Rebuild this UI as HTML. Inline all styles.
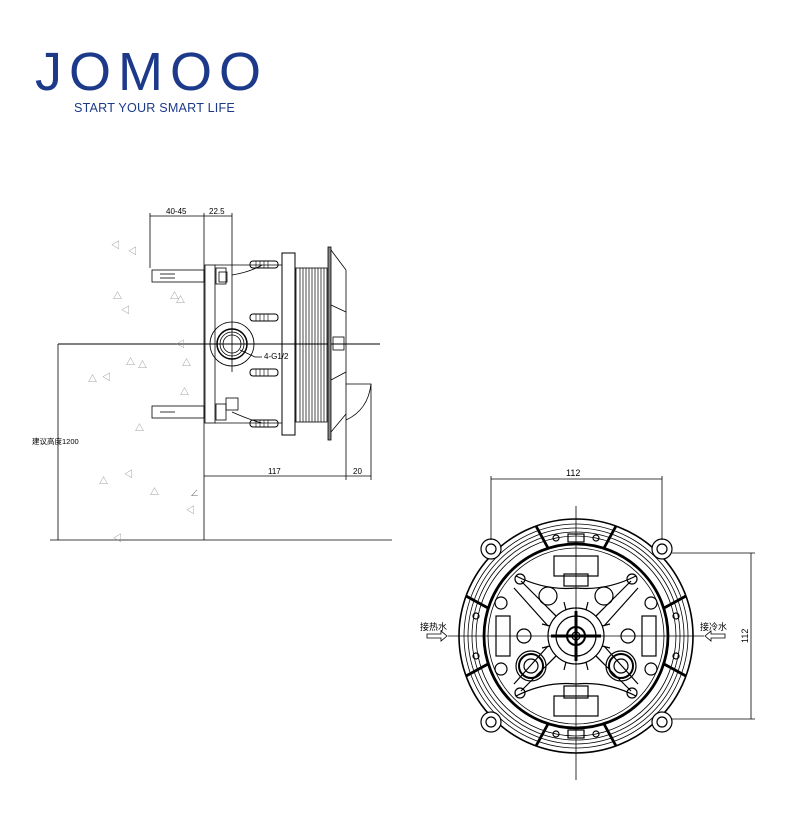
<!DOCTYPE html>
<html><head><meta charset="utf-8"><style>
body{margin:0;background:#fff;width:810px;height:814px;overflow:hidden;position:relative;font-family:"Liberation Sans",sans-serif}
.logo{position:absolute;left:35px;top:42px;font-size:54px;color:#1d3a8a;letter-spacing:7px;font-weight:400;line-height:60px}
.tag{position:absolute;left:74px;top:101px;font-size:12.6px;color:#1d3a8a;letter-spacing:0.2px}
svg{position:absolute;left:0;top:0}
</style></head><body>
<div class="logo">JOMOO</div>
<div class="tag">START YOUR SMART LIFE</div>
<svg width="810" height="814" viewBox="0 0 810 814" font-family="Liberation Sans, Noto Sans CJK SC, sans-serif">
<g stroke="#000" fill="none" stroke-width="0.8">
<line x1="150" y1="213" x2="150" y2="268"/>
<line x1="150" y1="216" x2="232" y2="216"/>
<line x1="204" y1="213" x2="204" y2="540"/>
<line x1="232" y1="213" x2="232" y2="372"/>
<line x1="58" y1="344" x2="58" y2="540"/>
<line x1="50" y1="540" x2="392" y2="540"/>
<line x1="58" y1="344" x2="380" y2="344" stroke-width="1"/>
<line x1="204" y1="476" x2="371" y2="476"/>
<line x1="346" y1="270" x2="346" y2="480"/>
<line x1="371" y1="384" x2="371" y2="480"/>
<rect x="152" y="270" width="52" height="12"/>
<line x1="160" y1="274" x2="175" y2="274"/><line x1="160" y1="278" x2="175" y2="278"/>
<rect x="152" y="406" width="52" height="12"/>
<line x1="160" y1="412" x2="175" y2="412"/>
<rect x="205" y="265" width="10" height="158"/>
<line x1="215" y1="265" x2="282" y2="265"/><line x1="215" y1="423" x2="282" y2="423"/>
<rect x="216" y="268" width="10" height="16"/><rect x="219" y="272" width="8" height="10"/>
<rect x="216" y="404" width="10" height="16"/><rect x="226" y="398" width="12" height="12"/>
<path d="M232 275 Q250 272 262 265"/><path d="M232 412 Q250 420 262 423"/>
<g stroke-width="1">
<rect x="250" y="261" width="28" height="7" rx="3"/><rect x="250" y="314" width="28" height="7" rx="3"/>
<rect x="250" y="369" width="28" height="7" rx="3"/><rect x="250" y="420" width="28" height="7" rx="3"/>
</g>
<g stroke-width="0.6">
<path d="M256 261v7M260 261v7M264 261v7M268 261v7M256 314v7M260 314v7M264 314v7M268 314v7M256 369v7M260 369v7M264 369v7M268 369v7M256 420v7M260 420v7M264 420v7M268 420v7"/>
</g>
<circle cx="232" cy="344" r="22"/><circle cx="232" cy="344" r="15" stroke-width="1.5"/><circle cx="232" cy="344" r="12"/><circle cx="232" cy="344" r="9"/>
<path d="M240 350 L255 357 L262 357"/>
<rect x="282" y="253" width="13" height="182" stroke-width="1"/>
<rect x="296" y="268" width="31" height="154"/>
<path d="M300 268v154M303 268v154M306 268v154M309 268v154M312 268v154M315 268v154M318 268v154M321 268v154M324 268v154" stroke-width="0.7"/>
<rect x="328" y="247" width="3" height="193" fill="#888"/>
<path d="M331 250 L346 270 M331 305 L346 312 M331 380 L346 372 M331 432 L346 414"/>
<rect x="333" y="337" width="11" height="13"/>
<path d="M346 384 H371 Q368 410 346 420"/>
<g transform="translate(576,636)">
<circle r="117" stroke-width="1.6"/><circle r="112"/><circle r="108"/><circle r="104"/><circle r="100"/>
<circle r="92" stroke-width="2.8"/><circle r="88"/>
<g stroke-width="2.8">
<path d="M-40 -110 L-28 -88 M40 -110 L28 -88 M-40 110 L-28 88 M40 110 L28 88 M-110 -40 L-88 -28 M-110 40 L-88 28 M110 -40 L88 -28 M110 40 L88 28"/>
</g>
<g stroke-width="1.2">
<circle cx="-85" cy="-87" r="10" fill="#fff"/><circle cx="-85" cy="-87" r="5"/>
<circle cx="86" cy="-87" r="10" fill="#fff"/><circle cx="86" cy="-87" r="5"/>
<circle cx="-85" cy="86" r="10" fill="#fff"/><circle cx="-85" cy="86" r="5"/>
<circle cx="86" cy="86" r="10" fill="#fff"/><circle cx="86" cy="86" r="5"/>
<rect x="-22" y="-80" width="44" height="20"/><rect x="-12" y="-62" width="24" height="12"/>
<rect x="-22" y="60" width="44" height="20"/><rect x="-12" y="50" width="24" height="12"/>
<rect x="-8" y="-102" width="16" height="8"/><rect x="-8" y="94" width="16" height="8"/>
<rect x="-80" y="-20" width="14" height="40"/><rect x="66" y="-20" width="14" height="40"/>
<circle cx="-100" cy="-20" r="3"/><circle cx="-100" cy="20" r="3"/><circle cx="100" cy="-20" r="3"/><circle cx="100" cy="20" r="3"/>
<circle cx="-20" cy="-98" r="3"/><circle cx="20" cy="-98" r="3"/><circle cx="-20" cy="98" r="3"/><circle cx="20" cy="98" r="3"/>
<circle r="28"/><circle r="20"/><circle r="9" stroke-width="2"/><circle r="4"/>
<path d="M-55 -55 L-20 -20 M55 -55 L20 -20 M-55 55 L-20 20 M55 55 L20 20 M-62 -48 L-28 -10 M62 -48 L28 -10 M-62 48 L-28 10 M62 48 L28 10"/>
<path d="M-20 -20 L-28 -28 M20 -20 L28 -28 M-20 20 L-28 28 M20 20 L28 28 M-10 -26 L-12 -34 M10 -26 L12 -34 M-10 26 L-12 34 M10 26 L12 34 M-26 -10 L-34 -12 M26 -10 L34 -12 M-26 10 L-34 12 M26 10 L34 12"/>
<circle cx="-56" cy="-57" r="5"/><circle cx="56" cy="-57" r="5"/><circle cx="-56" cy="57" r="5"/><circle cx="56" cy="57" r="5"/>
<circle cx="-75" cy="-33" r="6"/><circle cx="75" cy="-33" r="6"/><circle cx="-75" cy="33" r="6"/><circle cx="75" cy="33" r="6"/>
<circle cx="-45" cy="30" r="12" stroke-width="2"/><circle cx="-45" cy="30" r="7"/><circle cx="-45" cy="30" r="15"/>
<circle cx="45" cy="30" r="12" stroke-width="2"/><circle cx="45" cy="30" r="7"/><circle cx="45" cy="30" r="15"/>
<circle cx="-52" cy="0" r="7"/><circle cx="52" cy="0" r="7"/>
<circle cx="-28" cy="-40" r="9"/><circle cx="28" cy="-40" r="9"/>
<path d="M-60 -60 Q-30 -45 0 -48 Q30 -45 60 -60"/><path d="M-60 60 Q-30 45 0 48 Q30 45 60 60"/>
</g>
<path d="M-25 0 H25 M0 -25 V25" stroke-width="3"/>
<line x1="-128" y1="0" x2="128" y2="0"/><line x1="0" y1="-130" x2="0" y2="144"/>
</g>
<line x1="491" y1="476" x2="491" y2="540"/><line x1="662" y1="476" x2="662" y2="540"/>
<line x1="491" y1="479" x2="662" y2="479"/>
<line x1="672" y1="553" x2="755" y2="553"/><line x1="672" y1="719" x2="755" y2="719"/>
<line x1="751" y1="553" x2="751" y2="719"/>
<path d="M427 634h14v-3l6 5-6 5v-3h-14z"/>
<path d="M725 634h-14v-3l-6 5 6 5v-3h14z"/>
</g>
<g fill="#888" font-size="9">
<text x="111" y="248">◁</text><text x="128" y="254">◁</text><text x="113" y="299">△</text><text x="170" y="299">△</text><text x="176" y="303">△</text>
<text x="121" y="313">◁</text><text x="176" y="347">◁</text><text x="126" y="365">△</text><text x="138" y="368">△</text>
<text x="88" y="382">△</text><text x="102" y="380">◁</text><text x="182" y="366">△</text><text x="180" y="395">△</text>
<text x="135" y="431">△</text><text x="99" y="484">△</text><text x="124" y="477">◁</text><text x="150" y="495">△</text>
<text x="190" y="496">∠</text><text x="186" y="513">◁</text><text x="113" y="541">◁</text>
</g>
<g font-size="8" fill="#000">
<text x="166" y="214">40-45</text><text x="209" y="214">22.5</text>
<text x="264" y="359">4-G1/2</text>
<text x="32" y="444" font-size="7.5">建议高度1200</text>
<text x="268" y="474">117</text><text x="353" y="474">20</text>
<text x="566" y="476" font-size="9">112</text>
<text x="420" y="630" font-size="9">接热水</text><text x="700" y="630" font-size="9">接冷水</text>
<text transform="translate(748,643) rotate(-90)" font-size="9">112</text>
</g>
</svg>
</body></html>
